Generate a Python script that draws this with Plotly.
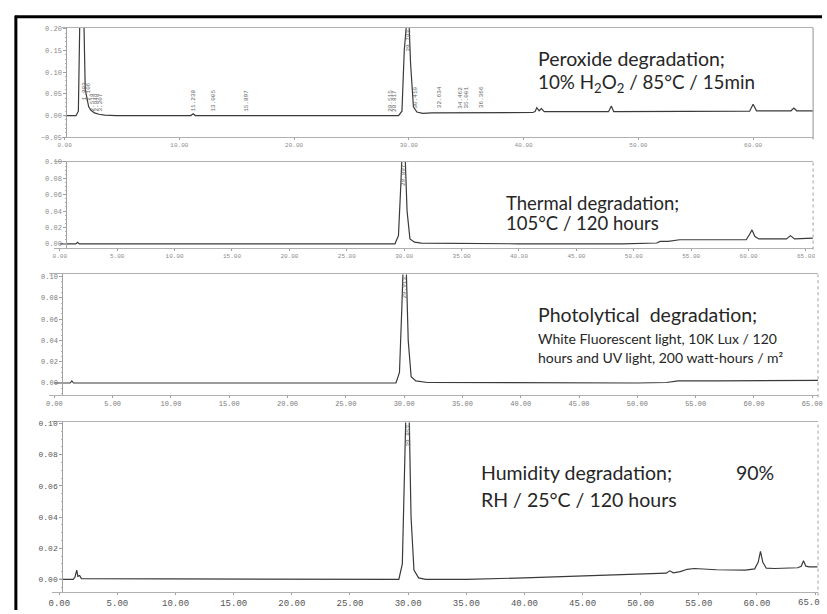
import plotly.graph_objects as go

W, H = 827, 614

# ---------------- data ----------------
perox_t = [0.0, 1.0, 1.2, 1.35, 1.5, 1.65, 1.8, 1.95, 2.1, 2.3, 2.6, 3.0, 3.5, 4.5, 11.0, 11.2, 11.4,
           29.1, 29.4, 29.6, 29.75, 29.95, 30.15, 30.4, 30.7, 31.2, 32.0, 40.8, 41.0, 41.15, 41.35,
           41.55, 41.8, 47.4, 47.65, 47.85, 48.1, 59.7, 60.0, 60.3, 63.3, 63.55, 63.8, 65.2]
perox_a = [0.0, 0.0, 0.01, 0.26, 0.26, 0.26, 0.06, 0.035, 0.02, 0.012, 0.006, 0.003, 0.001, 0.0, 0.0,
           0.004, 0.0, 0.0, 0.01, 0.15, 0.26, 0.26, 0.12, 0.02, 0.008, 0.005, 0.006, 0.007, 0.009,
           0.018, 0.011, 0.016, 0.009, 0.009, 0.022, 0.009, 0.009, 0.01, 0.026, 0.011, 0.011, 0.017,
           0.011, 0.011]

thermal_t = [0.0, 1.4, 1.55, 1.7, 29.2, 29.5, 29.7, 29.85, 30.05, 30.25, 30.5, 30.9, 31.5, 40.0,
             49.0, 52.0, 52.3, 53.0, 54.0, 59.8, 60.1, 60.3, 60.55, 60.9, 63.3, 63.65, 64.0, 65.6]
thermal_a = [0.0, 0.0, 0.002, 0.0, 0.0, 0.01, 0.07, 0.12, 0.12, 0.04, 0.006, 0.002, 0.001, 0.0,
             0.0, 0.001, 0.003, 0.003, 0.005, 0.005, 0.012, 0.017, 0.009, 0.006, 0.006, 0.010,
             0.006, 0.007]

photo_t = [0.0, 1.35, 1.5, 1.65, 29.3, 29.6, 29.8, 29.95, 30.15, 30.35, 30.6, 31.0, 32.0, 45.0,
           50.0, 52.5, 53.5, 57.0, 62.0, 65.5]
photo_a = [0.0, 0.0, 0.002, 0.0, 0.0, 0.01, 0.07, 0.12, 0.12, 0.04, 0.006, 0.002, 0.0005, 0.0,
           0.0, 0.0005, 0.002, 0.002, 0.0025, 0.0025]

humid_t = [0.0, 1.2, 1.35, 1.5, 1.6, 1.75, 1.9, 29.2, 29.5, 29.7, 29.85, 30.05, 30.25, 30.5, 30.9,
           31.5, 35.0, 40.0, 45.0, 50.0, 52.2, 52.5, 52.8, 53.4, 54.0, 54.6, 56.5, 59.0, 59.8,
           60.1, 60.3, 60.5, 60.8, 61.5, 63.5, 63.8, 64.0, 64.2, 64.5, 65.2]
humid_a = [0.0, 0.0, 0.0015, 0.006, 0.002, 0.0025, 0.0005, 0.0, 0.01, 0.07, 0.12, 0.12, 0.04,
           0.006, 0.001, 0.0, 0.0, 0.001, 0.0022, 0.0035, 0.004, 0.0055, 0.0042, 0.005, 0.0065,
           0.007, 0.0062, 0.006, 0.0068, 0.011, 0.018, 0.011, 0.0072, 0.007, 0.0075, 0.0085,
           0.012, 0.0085, 0.008, 0.008]

# retention-time labels printed over peroxide peaks
perox_label_t = [1.75, 2.05, 2.45, 2.8, 3.15, 11.25, 13.0, 15.9, 28.45, 28.8, 30.55, 32.7, 34.5,
                 35.0, 36.35]
perox_label_txt = ["1.883", "2.106", "2.518", "2.848", "3.207", "11.238", "13.005", "15.897",
                   "28.515", "28.817", "30.410", "32.634", "34.462", "35.001", "36.366"]
perox_label_y = [0.03, 0.03, 0.004, 0.004, 0.004, 0.004, 0.004, 0.004, 0.004, 0.004, 0.012,
                 0.012, 0.012, 0.012, 0.012]
main_peak_labels = ["29.782", "29.897", "29.913", "29.853"]
humid_last_tick = "65.0"   # last x label of the humidity panel, cut by the page edge

panels = [
    dict(t=perox_t, a=perox_a),
    dict(t=thermal_t, a=thermal_a),
    dict(t=photo_t, a=photo_a),
    dict(t=humid_t, a=humid_a),
]

# ---------------- layout helpers ----------------
def px(x):
    return x / W

def py(y):
    return 1 - y / H

geo = [
    dict(xL=58, xR=818, yT=24, yB=135, yax=62, xr=[-0.2, 65.23], yr=[-0.05, 0.2025],
         xd=10, yd=0.05, xfs=6, yfs=7, col="#8a8a8a"),
    dict(xL=50, xR=818, yT=160, yB=247, yax=62, xr=[-0.47, 65.62], yr=[-0.0048, 0.10],
         xd=5, yd=0.02, xfs=6, yfs=7, col="#8a8a8a"),
    dict(xL=45, xR=823, yT=274, yB=396, yax=58, xr=[-0.42, 65.5], yr=[-0.0111, 0.1019],
         xd=5, yd=0.02, xfs=7, yfs=7, col="#7a7a7a"),
    dict(xL=48, xR=823, yT=424, yB=596, yax=58, xr=[-0.59, 65.25], yr=[-0.0082, 0.1006],
         xd=5, yd=0.02, xfs=9, yfs=8, col="#555555"),
]

fig = go.Figure()
layout = dict(
    width=W, height=H, margin=dict(l=0, r=0, t=0, b=0),
    paper_bgcolor="white", plot_bgcolor="white", showlegend=False,
)
shapes = []
annotations = []

for i, (p, g) in enumerate(zip(panels, geo), start=1):
    xa = "xaxis" if i == 1 else f"xaxis{i}"
    ya = "yaxis" if i == 1 else f"yaxis{i}"
    xr_ = "x" if i == 1 else f"x{i}"
    yr_ = "y" if i == 1 else f"y{i}"
    fig.add_trace(go.Scatter(x=p["t"], y=p["a"], mode="lines", xaxis=xr_, yaxis=yr_,
                             line=dict(color="#3a3a3a", width=1.2), hoverinfo="skip"))
    layout[xa] = dict(
        domain=[px(g["xL"]), px(g["xR"])], range=g["xr"], anchor=yr_,
        showline=True, linecolor="#b0b0b0", linewidth=1, mirror=True,
        ticks="outside", ticklen=2, tickcolor="#a0a0a0", tick0=0, dtick=g["xd"],
        tickformat=".2f", tickfont=dict(family="Liberation Mono", size=g["xfs"], color=g["col"]),
        showgrid=False, zeroline=False,
    )
    layout[ya] = dict(
        domain=[py(g["yB"]), py(g["yT"])], range=g["yr"], anchor="free",
        position=px(g["yax"]),
        showline=True, linecolor="#a0a0a0", linewidth=1,
        ticks="outside", ticklen=3, tickcolor="#a0a0a0", tick0=0, dtick=g["yd"],
        minor=dict(ticks="outside", ticklen=1.5, tickcolor="#b8b8b8", nticks=5),
        tickformat=".2f", tickfont=dict(family="Liberation Mono", size=g["yfs"], color=g["col"]),
        showgrid=False, zeroline=False,
    )
    shapes.append(dict(type="line", xref=f"{xr_} domain", yref=f"{yr_} domain",
                       x0=1, x1=1, y0=-0.02, y1=1.0,
                       line=dict(color="#909090" if i == 1 else "#a0a0a0", width=1,
                                 dash="solid" if i == 1 else "dot")))
    annotations.append(dict(x=30.0, y=g["yr"][1], xref=xr_, yref=yr_, text=main_peak_labels[i - 1],
                            textangle=-90, showarrow=False, yanchor="top", xanchor="center",
                            font=dict(family="Liberation Mono", size=6, color="#666")))

for tt, tx, yy in zip(perox_label_t, perox_label_txt, perox_label_y):
    annotations.append(dict(x=tt, y=yy, xref="x", yref="y", text=tx, textangle=-90,
                            showarrow=False, yanchor="bottom", xanchor="center",
                            font=dict(family="Liberation Mono", size=6, color="#666")))

# last humidity x label, partly cut at the page edge in the original
annotations.append(dict(x=1.0, y=py(607), xref="paper", yref="paper", text=humid_last_tick,
                        showarrow=False, xanchor="right", yanchor="middle",
                        font=dict(family="Liberation Mono", size=9, color="#555555")))

# outer black frame (top and left)
shapes.append(dict(type="line", xref="paper", yref="paper", x0=px(10), x1=1.0, y0=py(13), y1=py(13),
                   line=dict(color="black", width=3)))
shapes.append(dict(type="line", xref="paper", yref="paper", x0=px(11), x1=px(11), y0=0, y1=py(12),
                   line=dict(color="black", width=3)))

# condition texts
TF = "Lato"
TC = "#262626"
texts = [
    ("Peroxide degradation;", 538, 55, 19.5),
    ("10% H<sub>2</sub>O<sub>2</sub> / 85°C / 15min", 538, 80, 18.8),
    ("Thermal degradation;", 505, 202, 18.5),
    ("105°C / 120 hours", 505, 222, 18.5),
    ("Photolytical  degradation;", 538, 315, 19.5),
    ("White Fluorescent light, 10K Lux / 120", 538, 339, 14),
    ("hours and UV light, 200 watt-hours / m²", 538, 358, 14),
    ("Humidity degradation;", 480, 475, 19.5),
    ("90%", 738, 475, 19.5),
    ("RH / 25°C / 120 hours", 480, 502, 19.5),
]
for txt, x, y, fs in texts:
    annotations.append(dict(x=px(x), y=py(y), xref="paper", yref="paper", text=txt,
                            showarrow=False, xanchor="left", yanchor="middle",
                            font=dict(family=TF, size=fs, color=TC)))

layout["shapes"] = shapes
layout["annotations"] = annotations
fig.update_layout(**layout)
fig.write_html("out.html")
